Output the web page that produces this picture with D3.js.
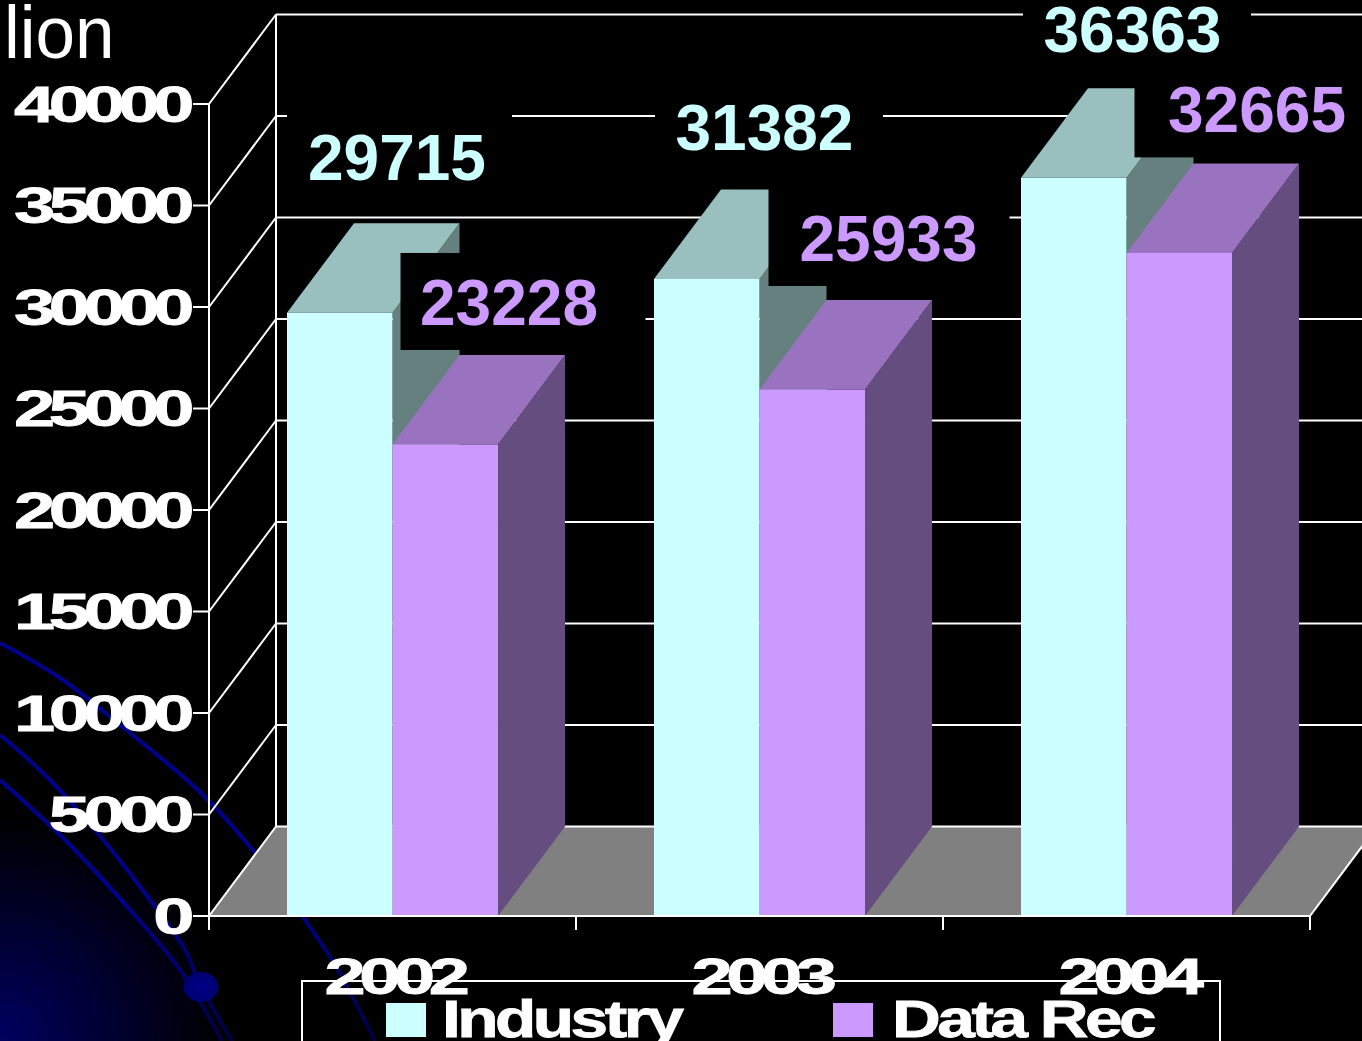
<!DOCTYPE html>
<html>
<head>
<meta charset="utf-8">
<title>Industry vs Data Rec</title>
<script src="https://cdn.jsdelivr.net/npm/d3@7"></script>
<style>
  html, body { margin: 0; padding: 0; background: #000; overflow: hidden; }
  svg { display: block; }
  text { font-family: "Liberation Sans", Arial, sans-serif; }
</style>
</head>
<body>
<svg></svg>
<script>
const width = 1362;
const height = 1041;

// chart values
const years = ["2002", "2003", "2004"];
const seriesNames = ["Industry", "Data Rec"];
const industry = [29715, 31382, 36363];
const dataRec = [23228, 25933, 32665];
const yTicks = [0, 5000, 10000, 15000, 20000, 25000, 30000, 35000, 40000];
const unitLabel = "lion";

// decorative swooshes behind the chart
const swooshA = [[0, 643], [60, 678], [120, 725], [200, 792], [255, 853], [305, 920], [335, 965], [375, 1041]];
const swooshB = [[0, 735], [45, 775], [95, 830], [150, 900], [185, 950], [200, 985], [232, 1041]];
const swooshC = [[0, 780], [65, 840], [130, 910], [180, 970], [222, 1041]];

const colors = {
  front: ["#ccffff", "#cc99ff"],
  top: ["#99bfbf", "#9973bf"],
  side: ["#668080", "#664d80"],
  floor: "#808080",
  grid: "#ffffff"
};

// depth of the fake 3d projection
const depthX = 67;
const depthY = 89.5;

const x = d3.scaleBand().domain(years).range([209, 1310]).paddingInner(0.425).paddingOuter(0.2125);
const xInner = d3.scaleBand().domain(seriesNames).range([0, x.bandwidth()]);
const y = d3.scaleLinear().domain([0, 40000]).range([916, 104]);

const svg = d3.select("svg").attr("width", width).attr("height", height);
const defs = svg.append("defs");

const glow = defs.append("radialGradient")
  .attr("id", "corner")
  .attr("gradientUnits", "userSpaceOnUse")
  .attr("cx", 0).attr("cy", 1041).attr("r", 225);
glow.append("stop").attr("offset", "0%").attr("stop-color", "#000060");
glow.append("stop").attr("offset", "100%").attr("stop-color", "#000000");

const ball = defs.append("radialGradient").attr("id", "ball");
ball.append("stop").attr("offset", "0%").attr("stop-color", "#000088");
ball.append("stop").attr("offset", "100%").attr("stop-color", "#000070");

const bottomFade = defs.append("linearGradient")
  .attr("id", "swooshFade")
  .attr("gradientUnits", "userSpaceOnUse")
  .attr("x1", 0).attr("y1", 900).attr("x2", 0).attr("y2", 1041);
bottomFade.append("stop").attr("offset", "0%").attr("stop-color", "#00008c");
bottomFade.append("stop").attr("offset", "100%").attr("stop-color", "#000040");

// background
svg.append("rect").attr("width", width).attr("height", height).attr("fill", "#000");
svg.append("rect").attr("width", width).attr("height", height).attr("fill", "url(#corner)");

const curve = d3.line().curve(d3.curveCatmullRom);
svg.selectAll(".swoosh")
  .data([swooshA, swooshB, swooshC])
  .enter()
  .append("path")
  .attr("class", "swoosh")
  .attr("d", curve)
  .attr("fill", "none")
  .attr("stroke", "url(#swooshFade)")
  .attr("stroke-width", 4);

svg.append("ellipse")
  .attr("cx", 201).attr("cy", 987)
  .attr("rx", 17.5).attr("ry", 15)
  .attr("fill", "url(#ball)");

// floor
const floorY = y(0);
const floor = [
  [x.range()[0], floorY],
  [x.range()[0] + depthX, floorY - depthY],
  [x.range()[1] + depthX, floorY - depthY],
  [x.range()[1], floorY]
];
svg.append("path")
  .attr("d", "M" + floor.join("L") + "Z")
  .attr("fill", colors.floor);

// back wall and side wall lines
const grid = svg.append("g").attr("stroke", colors.grid).attr("stroke-width", 2).attr("fill", "none");
grid.selectAll(".back")
  .data(yTicks)
  .enter()
  .append("line")
  .attr("class", "back")
  .attr("x1", x.range()[0] + depthX)
  .attr("x2", x.range()[1] + depthX)
  .attr("y1", d => y(d) - depthY)
  .attr("y2", d => y(d) - depthY);
grid.selectAll(".wallside")
  .data(yTicks)
  .enter()
  .append("line")
  .attr("class", "wallside")
  .attr("x1", x.range()[0])
  .attr("x2", x.range()[0] + depthX)
  .attr("y1", d => y(d))
  .attr("y2", d => y(d) - depthY);
grid.append("line")
  .attr("x1", x.range()[0] + depthX).attr("x2", x.range()[0] + depthX)
  .attr("y1", y(40000) - depthY).attr("y2", y(0) - depthY);
grid.append("line")
  .attr("x1", x.range()[1]).attr("x2", x.range()[1] + depthX)
  .attr("y1", y(0)).attr("y2", y(0) - depthY);

// bars, one year at a time so the purple bar sits in front of the teal side
const rows = [];
years.forEach((year, i) => {
  rows.push({ year, series: 0, value: industry[i] });
  rows.push({ year, series: 1, value: dataRec[i] });
});

const barX = d => x(d.year) + xInner(seriesNames[d.series]);
const barW = xInner.bandwidth();

const bars = svg.selectAll(".bar").data(rows).enter().append("g").attr("class", "bar");
bars.append("path")
  .attr("fill", d => colors.side[d.series])
  .attr("d", d => {
    const x1 = barX(d) + barW;
    return "M" + [[x1, y(d.value)], [x1 + depthX, y(d.value) - depthY], [x1 + depthX, y(0) - depthY], [x1, y(0)]].join("L") + "Z";
  });
bars.append("path")
  .attr("fill", d => colors.top[d.series])
  .attr("d", d => {
    const x0 = barX(d);
    const yv = y(d.value);
    return "M" + [[x0, yv], [x0 + depthX, yv - depthY], [x0 + barW + depthX, yv - depthY], [x0 + barW, yv]].join("L") + "Z";
  });
bars.append("rect")
  .attr("fill", d => colors.front[d.series])
  .attr("x", barX)
  .attr("y", d => y(d.value))
  .attr("width", barW)
  .attr("height", d => y(0) - y(d.value));

// value labels with their black boxes, nudges
const labelNudge = {
  x: [21, 27.5, 21.5, 40, 22.5, 41.5],
  y: [-132.5, -119.5, -129, -128.6, -125.5, -120.5],
  padLeft: [21, 19.5, 20.5, 31, 20.5, 33.5],
  boxW: [225, 245, 228, 241, 228, 245]
};
const labelX = (d, i) => barX(d) + labelNudge.x[i];
const labelY = (d, i) => y(d.value) + labelNudge.y[i];

svg.selectAll(".labelbox")
  .data(rows)
  .enter()
  .append("rect")
  .attr("class", "labelbox")
  .attr("fill", "#000")
  .attr("x", (d, i) => labelX(d, i) - labelNudge.padLeft[i])
  .attr("y", (d, i) => labelY(d, i) - 72)
  .attr("width", (d, i) => labelNudge.boxW[i])
  .attr("height", 97);

svg.selectAll(".valuelabel")
  .data(rows)
  .enter()
  .append("text")
  .attr("class", "valuelabel")
  .attr("x", labelX)
  .attr("y", labelY)
  .attr("font-size", 64)
  .attr("font-weight", "bold")
  .attr("fill", d => colors.front[d.series])
  .text(d => d.value);

// axes
const yAxis = d3.axisLeft(y).tickValues(yTicks).tickSize(16).tickFormat("").offset(0);
const yG = svg.append("g").attr("transform", "translate(209,0)").call(yAxis);

const xBoundaries = d3.scaleLinear().domain([0, years.length]).range(x.range());
const xAxis = d3.axisBottom(xBoundaries).ticks(years.length).tickSize(14).tickFormat("").offset(0);
const xG = svg.append("g").attr("transform", "translate(0," + y(0) + ")").call(xAxis);

[yG, xG].forEach(g => {
  g.selectAll("path").attr("stroke", colors.grid).attr("stroke-width", 2);
  g.selectAll("line").attr("stroke", colors.grid).attr("stroke-width", 2);
});
yG.select("path").attr("d", "M0," + y(40000) + "V" + (y(0) + 14));

// stretched bold text, like the squeezed wide labels in the slide
function wideText(parent, label, xPos, baseline, anchor, size, scaleX, spacing) {
  return parent.append("text")
    .attr("transform", "translate(" + xPos + "," + baseline + ") scale(" + scaleX + ",1)")
    .attr("text-anchor", anchor)
    .attr("font-size", size)
    .attr("font-weight", "bold")
    .attr("letter-spacing", spacing)
    .attr("fill", "#fff")
    .attr("stroke", "#fff")
    .attr("stroke-width", 0.8)
    .text(label);
}

const tickLabels = svg.append("g");
yTicks.forEach(t => {
  wideText(tickLabels, String(t), 188, y(t) + 17.5, "end", 50, 1.48, -4.3);
});

// legend box goes under the year labels
const legend = svg.append("g");
legend.append("rect")
  .attr("x", 302).attr("y", 981)
  .attr("width", 918).attr("height", 90)
  .attr("fill", "none")
  .attr("stroke", colors.grid)
  .attr("stroke-width", 2);

const legendSwatchX = [386, 833];
const legendTextX = [442, 892];
seriesNames.forEach((name, i) => {
  legend.append("rect")
    .attr("x", legendSwatchX[i]).attr("y", 1003)
    .attr("width", 40).attr("height", 34)
    .attr("fill", colors.front[i]);
  wideText(legend, name, legendTextX[i], 1037, "start", 52, 1.3, -2.7);
});

years.forEach(year => {
  wideText(svg, year, x(year) + x.bandwidth() / 2 + 1.5, 994, "middle", 50, 1.48, -4.3);
});

svg.append("text")
  .attr("transform", "translate(4,58) scale(0.96,1)")
  .attr("font-size", 74)
  .attr("fill", "#fff")
  .text(unitLabel);
</script>
</body>
</html>
